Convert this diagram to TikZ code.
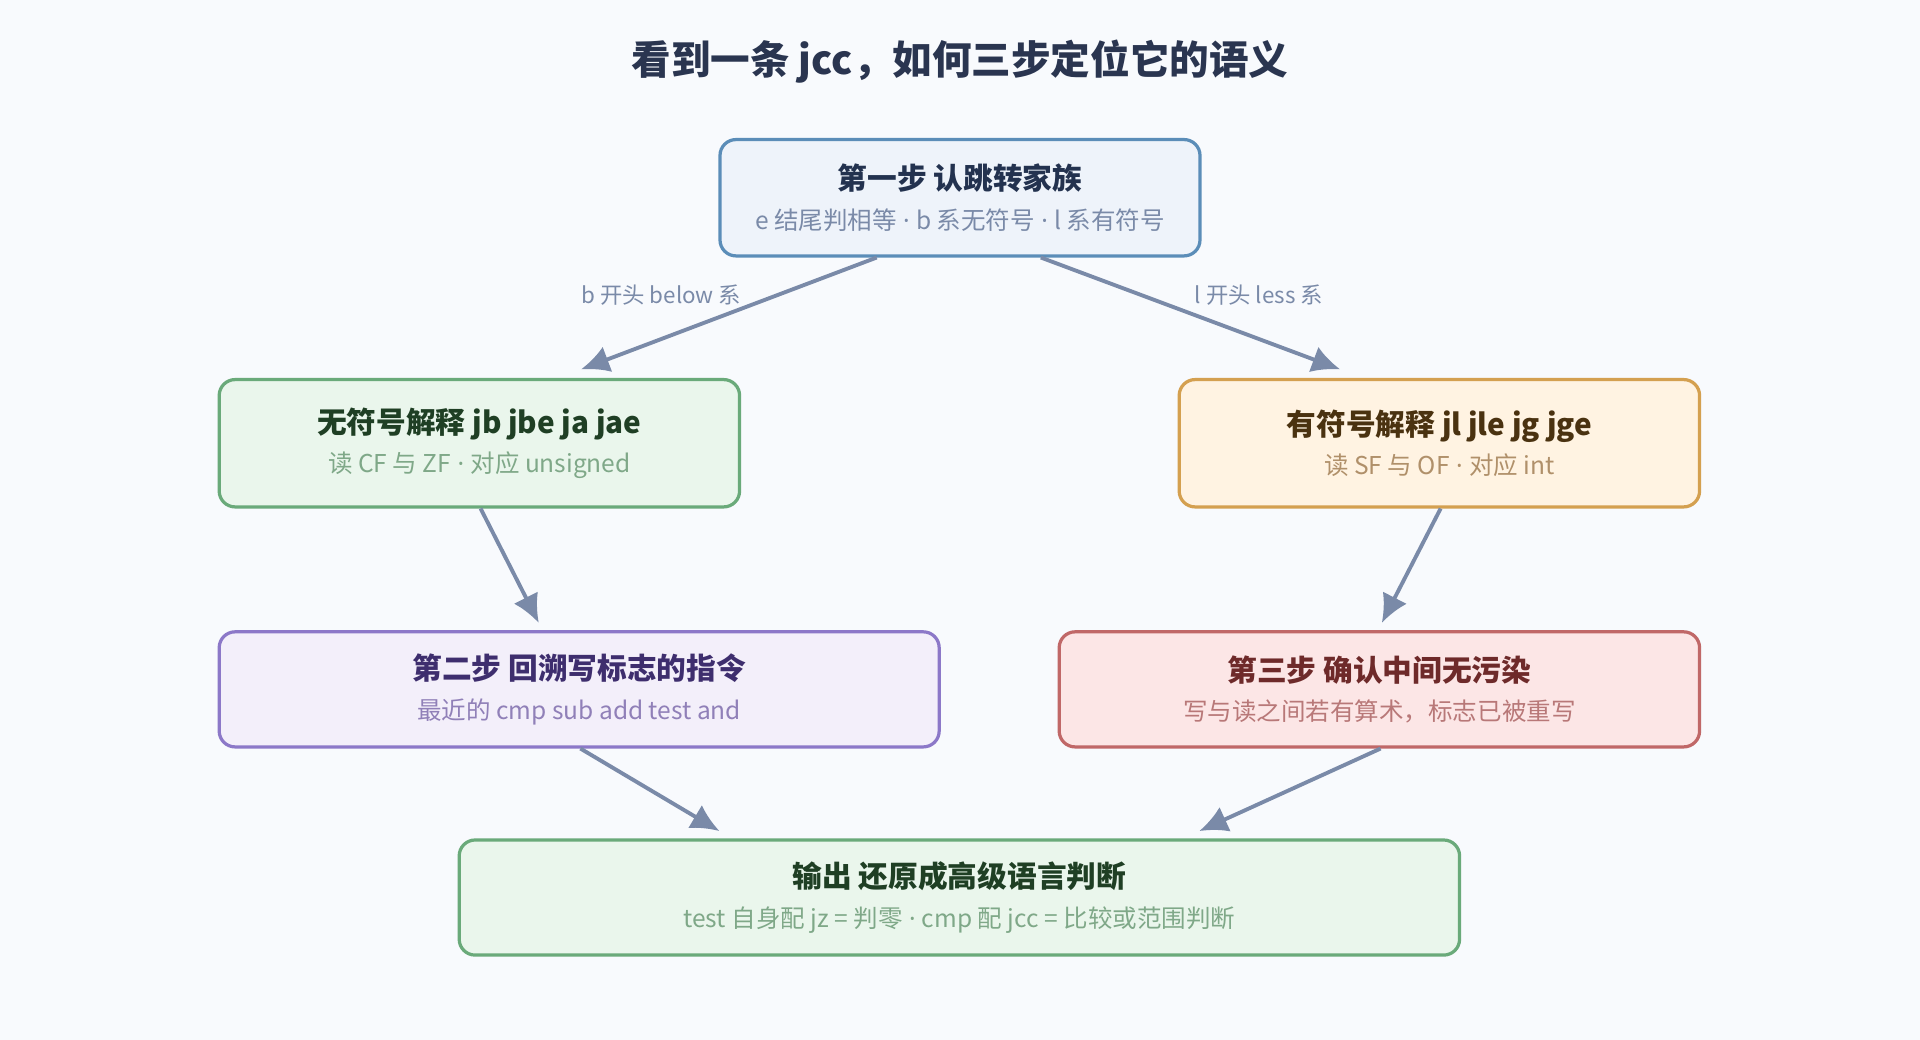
\documentclass[tikz,border=0pt]{standalone}
\usepackage{fontspec}
\setmainfont{Noto Sans CJK SC}
\newfontfamily\latinf{Noto Sans}
\usetikzlibrary{arrows.meta, positioning}
\definecolor{bgc}{HTML}{F8FAFD}
\definecolor{titlec}{HTML}{2A3550}
\definecolor{arrc}{HTML}{7A8AA8}
\definecolor{blueF}{HTML}{EEF3FA}\definecolor{blueD}{HTML}{5B8DB8}\definecolor{blueT}{HTML}{23324F}\definecolor{blueS}{HTML}{7A8AA8}
\definecolor{greenF}{HTML}{EAF6EC}\definecolor{greenD}{HTML}{6AAA7A}\definecolor{greenT}{HTML}{1F3F24}\definecolor{greenS}{HTML}{7FA888}
\definecolor{orangeF}{HTML}{FFF3E2}\definecolor{orangeD}{HTML}{D4A050}\definecolor{orangeT}{HTML}{4A3210}\definecolor{orangeS}{HTML}{B0906A}
\definecolor{purpleF}{HTML}{F3EFFA}\definecolor{purpleD}{HTML}{8C78C8}\definecolor{purpleT}{HTML}{3E2E6E}\definecolor{purpleS}{HTML}{9080B8}
\definecolor{redF}{HTML}{FCE6E6}\definecolor{redD}{HTML}{C06868}\definecolor{redT}{HTML}{6E2A2A}\definecolor{redS}{HTML}{B87878}
\tikzset{
    stepBox/.style={draw=#1D, fill=#1F, line width=0.75pt, rounded corners=1.3mm, align=center, inner sep=0pt},
    stepArrow/.style={draw=arrc, line width=0.9pt, -{Latex[length=2.3mm, width=2.2mm]}},
    edgeLabel/.style={text=arrc, font=\fontsize{5.2pt}{6pt}\selectfont},
}
\newcommand{\boxText}[3]{{\color{#1T}\bfseries\fontsize{6.9pt}{8pt}\selectfont #2}\\[-1mm]{\color{#1S}\fontsize{5.7pt}{7pt}\selectfont #3}}
\newcommand{\sep}{{\latinf\ ·\ }}
\begin{document}
\begin{tikzpicture}[x=0.1mm, y=-0.1mm]
    \fill[bgc] (0,0) rectangle (1568,849);
    \useasboundingbox (0,0) rectangle (1568,849);

    % title
    \node[text=titlec, font=\bfseries\fontsize{9.2pt}{10pt}\selectfont] (title) at (784,50) {看到一条 jcc，如何三步定位它的语义};

    % boxes
    \node[stepBox=blue, minimum width=39.2mm, minimum height=9.5mm] (s1) at (784,161.5)
        {\boxText{blue}{第一步 认跳转家族}{e 结尾判相等\sep b 系无符号\sep l 系有符号}};
    \node[stepBox=green, minimum width=42.5mm, minimum height=10.4mm] (uns) at (391.5,362)
        {\boxText{green}{无符号解释 jb jbe ja jae}{读 CF 与 ZF\sep 对应 unsigned}};
    \node[stepBox=orange, minimum width=42.5mm, minimum height=10.4mm] (sig) at (1175.5,362)
        {\boxText{orange}{有符号解释 jl jle jg jge}{读 SF 与 OF\sep 对应 int}};
    \node[stepBox=purple, minimum width=58.8mm, minimum height=9.4mm] (s2) at (473,563)
        {\boxText{purple}{第二步 回溯写标志的指令}{最近的 cmp sub add test and}};
    \node[stepBox=red, minimum width=52.3mm, minimum height=9.4mm] (s3) at (1126.5,563)
        {\boxText{red}{第三步 确认中间无污染}{写与读之间若有算术，标志已被重写}};
    \node[stepBox=green, minimum width=81.7mm, minimum height=9.4mm] (out) at (783.5,733)
        {\boxText{green}{输出 还原成高级语言判断}{test 自身配 jz = 判零\sep cmp 配 jcc = 比较或范围判断}};

    % connectors
    \draw[stepArrow] ([xshift=-6.8mm]s1.south) -- ([xshift=8.3mm,yshift=0.7mm]uns.north);
    \draw[stepArrow] ([xshift=6.6mm]s1.south) -- ([xshift=-8.1mm,yshift=0.7mm]sig.north);
    \draw[stepArrow] ([xshift=0.1mm]uns.south) -- ([xshift=-3.3mm,yshift=0.6mm]s2.north);
    \draw[stepArrow] ([xshift=0.1mm]sig.south) -- ([xshift=0.2mm,yshift=0.6mm]s3.north);
    \draw[stepArrow] ([xshift=0.1mm]s2.south) -- ([xshift=-19.6mm,yshift=0.6mm]out.north);
    \draw[stepArrow] ([xshift=0.1mm]s3.south) -- ([xshift=19.6mm,yshift=0.6mm]out.north);

    % edge labels
    \node[edgeLabel] (lb) at (540,241) {b 开头 below 系};
    \node[edgeLabel] (ll) at (1028,241) {l 开头 less 系};
\end{tikzpicture}
\end{document}
